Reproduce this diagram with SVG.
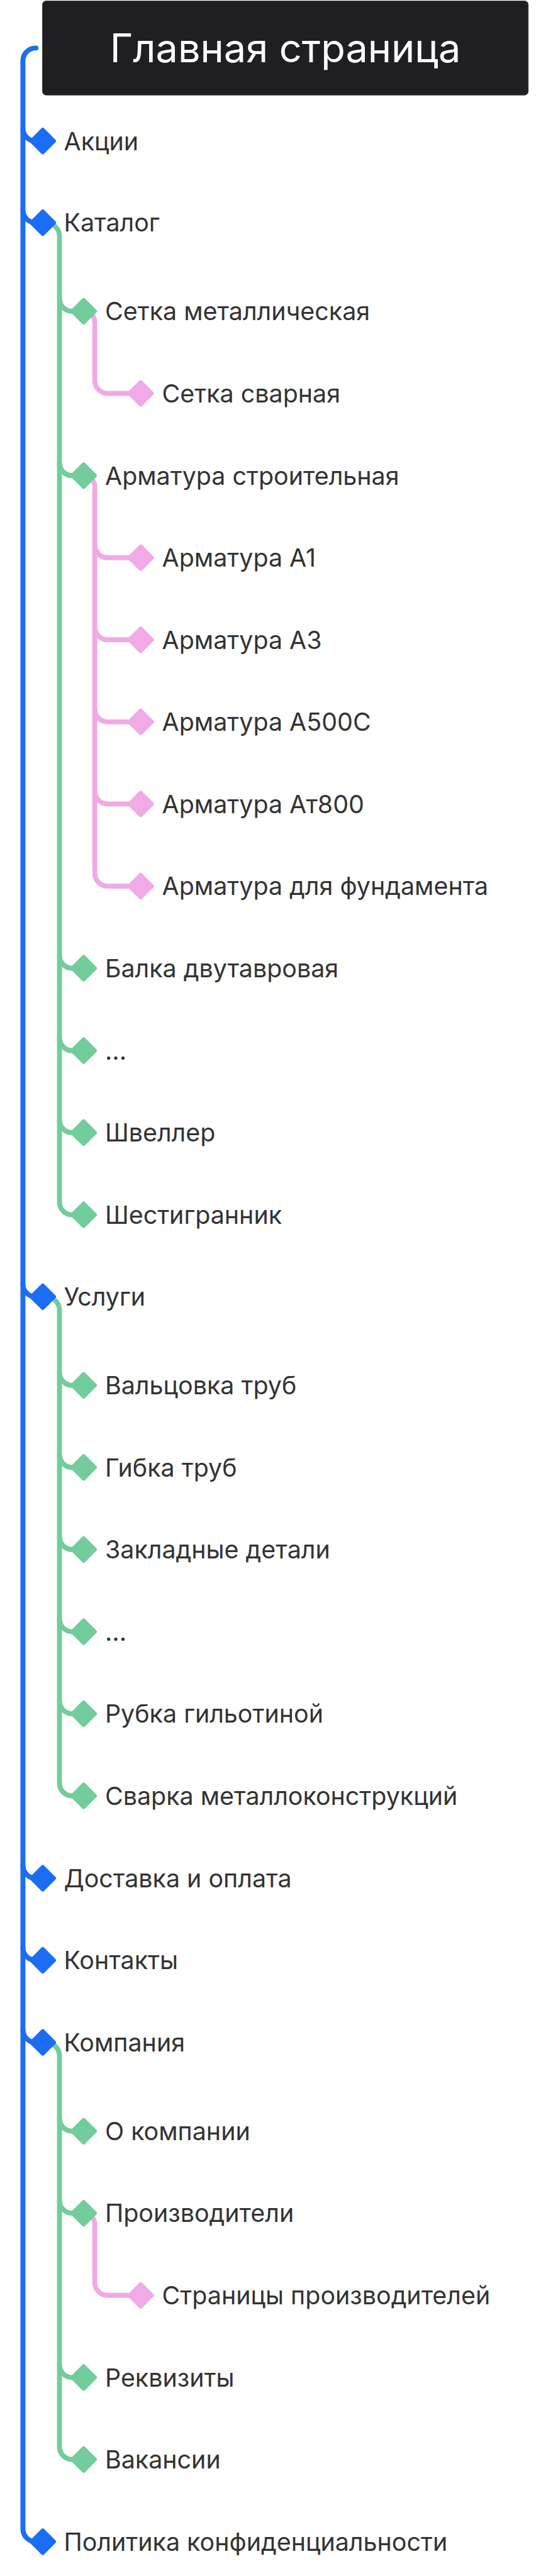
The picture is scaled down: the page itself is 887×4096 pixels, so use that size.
<svg xmlns="http://www.w3.org/2000/svg" width="887" height="4096" viewBox="0 0 887 4096">
<style>
.t{font-family:Inter,"Liberation Sans",sans-serif;font-size:40px;fill:#333333}
.title{font-family:Inter,"Liberation Sans",sans-serif;font-size:64px;fill:#ffffff;text-anchor:middle}
.c{fill:none;stroke-width:8;stroke-linecap:round;stroke-linejoin:round}
.cb{stroke:#1b6ef3}.cg{stroke:#72cc9b}.cp{stroke:#f0aae6}
.fb{fill:#1b6ef3}.fg{fill:#72cc9b}.fp{fill:#f0aae6}
</style>
<defs>
<rect id="dm" x="-16" y="-16" width="32" height="32" rx="3" transform="rotate(45)"/>
</defs>
<rect width="887" height="4096" fill="#ffffff"/>
<g transform="scale(0.985)">
<g id="connectors">
<path class="c cb" d="M58 77.5A20.5 20.5 0 0 0 37 98V4082.5A20.5 20.5 0 0 0 57.5 4103H68"/>
<path class="c cb" d="M37 207.2A20.5 20.5 0 0 0 57.5 227.7H68M37 339A20.5 20.5 0 0 0 57.5 359.5H68M37 2072.8A20.5 20.5 0 0 0 57.5 2093.3H68M37 3011.5A20.5 20.5 0 0 0 57.5 3032H68M37 3144A20.5 20.5 0 0 0 57.5 3164.5H68M37 3276.5A20.5 20.5 0 0 0 57.5 3297H68"/>
<path class="c cg" d="M69 359.5H74A22 22 0 0 1 96 381.5V1940.5A20.5 20.5 0 0 0 116.5 1961H134"/>
<path class="c cg" d="M96 482A20.5 20.5 0 0 0 116.5 502.5H134M96 747.3A20.5 20.5 0 0 0 116.5 767.8H134M96 1542.5A20.5 20.5 0 0 0 116.5 1563H134M96 1675.5A20.5 20.5 0 0 0 116.5 1696H134M96 1808A20.5 20.5 0 0 0 116.5 1828.5H134"/>
<path class="c cg" d="M69 2093.3H74A22 22 0 0 1 96 2115.3V2878.5A20.5 20.5 0 0 0 116.5 2899H134"/>
<path class="c cg" d="M96 2215.8A20.5 20.5 0 0 0 116.5 2236.3H134M96 2348.3A20.5 20.5 0 0 0 116.5 2368.8H134M96 2480.8A20.5 20.5 0 0 0 116.5 2501.3H134M96 2613.5A20.5 20.5 0 0 0 116.5 2634H134M96 2746A20.5 20.5 0 0 0 116.5 2766.5H134"/>
<path class="c cg" d="M69 3297H74A22 22 0 0 1 96 3319V3949.8A20.5 20.5 0 0 0 116.5 3970.3H134"/>
<path class="c cg" d="M96 3419.8A20.5 20.5 0 0 0 116.5 3440.3H134M96 3552.3A20.5 20.5 0 0 0 116.5 3572.8H134M96 3817.5A20.5 20.5 0 0 0 116.5 3838H134"/>
<path class="c cp" d="M135 502.5A18 18 0 0 1 153 520.5V614.5A20.5 20.5 0 0 0 173.5 635H226"/>
<path class="c cp" d="M135 767.8A18 18 0 0 1 153 785.8V1410A20.5 20.5 0 0 0 173.5 1430.5H226"/>
<path class="c cp" d="M153 879.8A20.5 20.5 0 0 0 173.5 900.3H226M153 1012.3A20.5 20.5 0 0 0 173.5 1032.8H226M153 1144.8A20.5 20.5 0 0 0 173.5 1165.3H226M153 1277.3A20.5 20.5 0 0 0 173.5 1297.8H226"/>
<path class="c cp" d="M135 3572.8A18 18 0 0 1 153 3590.8V3684.8A20.5 20.5 0 0 0 173.5 3705.3H226"/>
</g>
<g id="root">
<rect x="68.5" y="1.5" width="784" height="152" rx="6" fill="#1f1f23" stroke="#3a3a3e" stroke-width="1"/>
<text class="title" x="460.5" y="100.5">Главная страница</text>
</g>
<g id="n-akcii"><use href="#dm" x="69" y="227.7" class="fb"/><text class="t" x="103" y="242.2">Акции</text></g>
<g id="n-katalog"><use href="#dm" x="69" y="359.5" class="fb"/><text class="t" x="103" y="374">Каталог</text></g>
<g id="n-setka-met"><use href="#dm" x="135" y="502.5" class="fg"/><text class="t" x="169.5" y="517">Сетка металлическая</text></g>
<g id="n-setka-svar"><use href="#dm" x="227" y="635" class="fp"/><text class="t" x="261.5" y="649.5">Сетка сварная</text></g>
<g id="n-armatura"><use href="#dm" x="135" y="767.8" class="fg"/><text class="t" x="169.5" y="782.3">Арматура строительная</text></g>
<g id="n-a1"><use href="#dm" x="227" y="900.3" class="fp"/><text class="t" x="261.5" y="914.8">Арматура А1</text></g>
<g id="n-a3"><use href="#dm" x="227" y="1032.8" class="fp"/><text class="t" x="261.5" y="1047.3">Арматура А3</text></g>
<g id="n-a500"><use href="#dm" x="227" y="1165.3" class="fp"/><text class="t" x="261.5" y="1179.8">Арматура А500С</text></g>
<g id="n-at800"><use href="#dm" x="227" y="1297.8" class="fp"/><text class="t" x="261.5" y="1312.3">Арматура Ат800</text></g>
<g id="n-fund"><use href="#dm" x="227" y="1430.5" class="fp"/><text class="t" x="261.5" y="1445">Арматура для фундамента</text></g>
<g id="n-balka"><use href="#dm" x="135" y="1563" class="fg"/><text class="t" x="169.5" y="1577.5">Балка двутавровая</text></g>
<g id="n-dots1"><use href="#dm" x="135" y="1696" class="fg"/><text class="t" x="169.5" y="1710.5">...</text></g>
<g id="n-shveller"><use href="#dm" x="135" y="1828.5" class="fg"/><text class="t" x="169.5" y="1843">Швеллер</text></g>
<g id="n-shestigr"><use href="#dm" x="135" y="1961" class="fg"/><text class="t" x="169.5" y="1975.5">Шестигранник</text></g>
<g id="n-uslugi"><use href="#dm" x="69" y="2093.3" class="fb"/><text class="t" x="103" y="2107.8">Услуги</text></g>
<g id="n-valc"><use href="#dm" x="135" y="2236.3" class="fg"/><text class="t" x="169.5" y="2250.8">Вальцовка труб</text></g>
<g id="n-gibka"><use href="#dm" x="135" y="2368.8" class="fg"/><text class="t" x="169.5" y="2383.3">Гибка труб</text></g>
<g id="n-zaklad"><use href="#dm" x="135" y="2501.3" class="fg"/><text class="t" x="169.5" y="2515.8">Закладные детали</text></g>
<g id="n-dots2"><use href="#dm" x="135" y="2634" class="fg"/><text class="t" x="169.5" y="2648.5">...</text></g>
<g id="n-rubka"><use href="#dm" x="135" y="2766.5" class="fg"/><text class="t" x="169.5" y="2781">Рубка гильотиной</text></g>
<g id="n-svarka"><use href="#dm" x="135" y="2899" class="fg"/><text class="t" x="169.5" y="2913.5">Сварка металлоконструкций</text></g>
<g id="n-dostavka"><use href="#dm" x="69" y="3032" class="fb"/><text class="t" x="103" y="3046.5">Доставка и оплата</text></g>
<g id="n-kontakty"><use href="#dm" x="69" y="3164.5" class="fb"/><text class="t" x="103" y="3179">Контакты</text></g>
<g id="n-kompaniya"><use href="#dm" x="69" y="3297" class="fb"/><text class="t" x="103" y="3311.5">Компания</text></g>
<g id="n-o-komp"><use href="#dm" x="135" y="3440.3" class="fg"/><text class="t" x="169.5" y="3454.8">О компании</text></g>
<g id="n-proizv"><use href="#dm" x="135" y="3572.8" class="fg"/><text class="t" x="169.5" y="3587.3">Производители</text></g>
<g id="n-str-proizv"><use href="#dm" x="227" y="3705.3" class="fp"/><text class="t" x="261.5" y="3719.8">Страницы производителей</text></g>
<g id="n-rekv"><use href="#dm" x="135" y="3838" class="fg"/><text class="t" x="169.5" y="3852.5">Реквизиты</text></g>
<g id="n-vakans"><use href="#dm" x="135" y="3970.3" class="fg"/><text class="t" x="169.5" y="3984.8">Вакансии</text></g>
<g id="n-politika"><use href="#dm" x="69" y="4103" class="fb"/><text class="t" x="103" y="4117.5">Политика конфиденциальности</text></g>
</g>
</svg>
